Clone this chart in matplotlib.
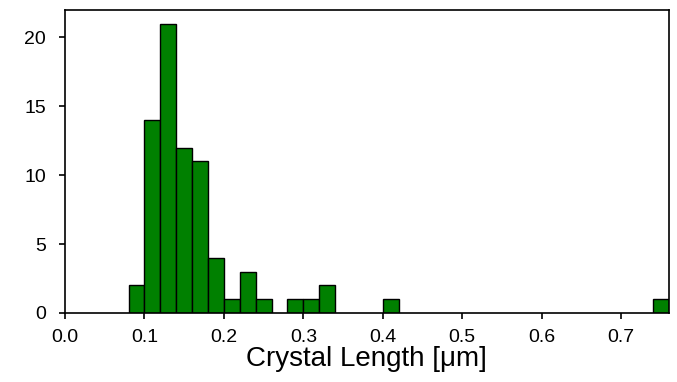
import numpy as np
import matplotlib
matplotlib.use("Agg")
import matplotlib.pyplot as plt

plt.rcParams['font.family'] = ['Liberation Sans', 'DejaVu Sans']

# histogram: bin left edges (width 0.02) and counts
bin_left = [0.08, 0.10, 0.12, 0.14, 0.16, 0.18, 0.20, 0.22, 0.24,
            0.28, 0.30, 0.32, 0.40, 0.74]
counts = [2, 14, 21, 12, 11, 4, 1, 3, 1, 1, 1, 2, 1, 1]
bin_width = 0.02

xticks = [0.0, 0.1, 0.2, 0.3, 0.4, 0.5, 0.6, 0.7]
yticks = [0, 5, 10, 15, 20]

fig = plt.figure(figsize=(6.77, 3.82), dpi=100)
ax = fig.add_axes([0.096, 0.181, 0.892, 0.793])

ax.bar(bin_left, counts, width=bin_width, align='edge',
       color='#008000', edgecolor='black', linewidth=1.0)

ax.set_xlim(0, 0.76)
ax.set_ylim(0, 22)
ax.set_xticks(xticks)
ax.set_xticklabels([f"{t:.1f}" for t in xticks])
ax.set_yticks(yticks)
ax.tick_params(direction='out', length=4.5, width=1.2, labelsize=14)
ax.tick_params(axis='x', pad=7)
ax.tick_params(axis='y', pad=9)
for s in ax.spines.values():
    s.set_linewidth(1.2)

ax.set_xlabel("Crystal Length [μm]", fontsize=20, labelpad=0)

fig.savefig("out.png", dpi=100)
